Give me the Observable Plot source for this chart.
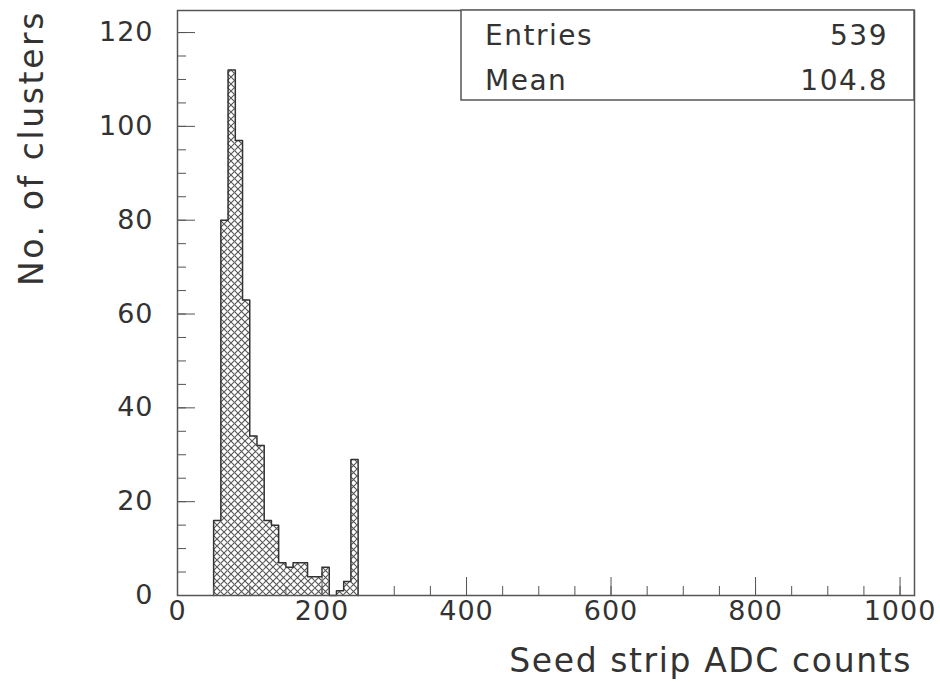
<!DOCTYPE html>
<html>
<head>
<meta charset="utf-8">
<script src="https://cdn.jsdelivr.net/npm/d3@7"></script>
<script src="https://cdn.jsdelivr.net/npm/@observablehq/plot@0.6"></script>
<style>
  html, body { margin: 0; padding: 0; background: #fff; }
  #chart { position: relative; width: 940px; height: 682px; }
</style>
</head>
<body>
<div id="chart"></div>
<script>
// ---- data ----
const binStart = [50, 60, 70, 80, 90, 100, 110, 120, 130, 140, 150, 160, 170, 180, 190, 200, 210, 220, 230, 240];
const binWidth = 10;
const counts   = [16, 80, 112, 97, 63, 34, 32, 16, 15, 7, 6, 7, 7, 4, 4, 6, 0, 1, 3, 29];
const xTicks = [0, 200, 400, 600, 800, 1000];
const xMinorTicks = d3.range(0, 1001, 50);
const yTicks = [0, 20, 40, 60, 80, 100, 120];
const yMinorTicks = d3.range(0, 121, 5);
const statsLabels = ["Entries", "Mean"];
const statsValues = ["539", "104.8"];
const xTitle = "Seed strip ADC counts";
const yTitle = "No. of clusters";

const bins = binStart.map((s, i) => ({x0: s, x1: s + binWidth, count: counts[i]}));
const last = bins[bins.length - 1];
const outline = [{x: bins[0].x0, y: 0}]
  .concat(bins.map(b => ({x: b.x0, y: b.count})))
  .concat([{x: last.x1, y: last.count}, {x: last.x1, y: 0}]);

const FONT = "'DejaVu Sans', sans-serif";
const INK = "#333";

const chart = Plot.plot({
  width: 940,
  height: 682,
  marginLeft: 177,
  marginRight: 26,
  marginTop: 10,
  marginBottom: 87,
  style: {fontFamily: FONT, fontSize: "27px", color: INK, background: "#fff", letterSpacing: "1px"},
  x: {domain: [0, 1020], axis: null},
  y: {domain: [0, 124.7], axis: null},
  marks: [
    Plot.rect(bins, {x1: "x0", x2: "x1", y1: 0, y2: "count", fill: "url(#crosshatch)", inset: 0}),
    Plot.line(outline, {x: "x", y: "y", curve: "step-after", stroke: INK, strokeWidth: 1.5}),
    Plot.axisY({ticks: yMinorTicks, tickSize: -9, tickFormat: () => "", label: null, stroke: "#555"}),
    Plot.axisY({ticks: yTicks, tickSize: -18, tickPadding: 18 + 24, tickFormat: d => String(d), label: null, stroke: "#555", fontSize: 27}),
    Plot.axisX({ticks: xMinorTicks, tickSize: -9, tickFormat: () => "", label: null, stroke: "#555"}),
    Plot.axisX({ticks: xTicks, tickSize: -18, tickPadding: 18 + 5, tickFormat: d => String(d), label: null, stroke: "#555", fontSize: 27}),
    Plot.frame({stroke: "#555", strokeWidth: 1.5})
  ]
});

const svg = d3.select(chart);
// crosshatch pattern
const defs = svg.insert("defs", ":first-child");
const pat = defs.append("pattern")
  .attr("id", "crosshatch")
  .attr("patternUnits", "userSpaceOnUse")
  .attr("width", 7).attr("height", 7);
pat.append("rect").attr("width", 7).attr("height", 7).attr("fill", "#fff");
pat.append("path")
  .attr("d", "M-1,-1 L8,8 M8,-1 L-1,8")
  .attr("stroke", "#555").attr("stroke-width", 1.1).attr("fill", "none");

// axis titles
svg.append("text")
  .attr("x", 912).attr("y", 672)
  .attr("text-anchor", "end")
  .style("font-family", FONT).style("font-size", "33px").style("letter-spacing", "1.6px")
  .attr("fill", INK)
  .text(xTitle);
svg.append("text")
  .attr("transform", "translate(43,10) rotate(-90)")
  .attr("text-anchor", "end")
  .style("font-family", FONT).style("font-size", "33px").style("letter-spacing", "2.6px")
  .attr("fill", INK)
  .text(yTitle);

// statistics box
const box = svg.append("g");
box.append("rect")
  .attr("x", 461).attr("y", 10).attr("width", 453).attr("height", 90)
  .attr("fill", "#fff").attr("stroke", "#555").attr("stroke-width", 1.5);
statsLabels.forEach((lab, i) => {
  box.append("text")
    .attr("x", 485).attr("y", 45 + i * 45)
    .attr("text-anchor", "start")
    .style("font-family", FONT).style("font-size", "28px").style("letter-spacing", "1.5px")
    .attr("fill", INK)
    .text(lab);
  box.append("text")
    .attr("x", 888).attr("y", 45 + i * 45)
    .attr("text-anchor", "end")
    .style("font-family", FONT).style("font-size", "28px").style("letter-spacing", "1.5px")
    .attr("fill", INK)
    .text(statsValues[i]);
});

document.getElementById("chart").appendChild(chart);
</script>
</body>
</html>
